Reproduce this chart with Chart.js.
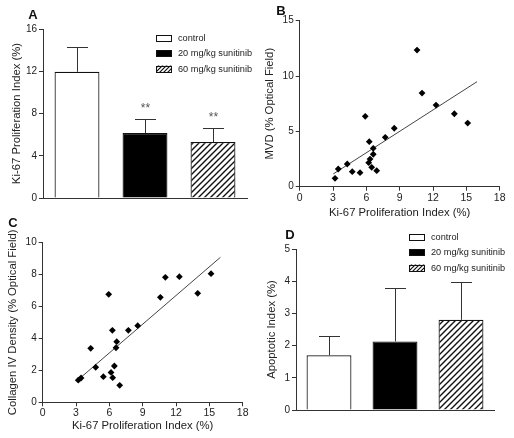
<!DOCTYPE html>
<html><head><meta charset="utf-8">
<script src="https://cdn.jsdelivr.net/npm/chart.js@4.4.1/dist/chart.umd.min.js"></script>
<style>
html,body{margin:0;padding:0;background:#fff}
body{width:514px;height:438px;position:relative;overflow:hidden;font-family:"Liberation Sans",Arial,sans-serif}
.p{position:absolute;width:257px;height:219px}
.p canvas{display:block}
.lbl{position:absolute;font-weight:bold;font-size:13px;color:#111;transform:translate(-50%,-50%);line-height:1}
</style></head><body>
<div class="p" style="left:0;top:0"><canvas id="cA" width="257" height="219"></canvas></div>
<div class="p" style="left:257px;top:0"><canvas id="cB" width="257" height="219"></canvas></div>
<div class="p" style="left:0;top:219px"><canvas id="cC" width="257" height="219"></canvas></div>
<div class="p" style="left:257px;top:219px"><canvas id="cD" width="257" height="219"></canvas></div>
<div class="lbl" style="left:33px;top:14px">A</div>
<div class="lbl" style="left:281px;top:10px">B</div>
<div class="lbl" style="left:13px;top:222px">C</div>
<div class="lbl" style="left:290px;top:234px">D</div>
<script>
// ---------- data ----------
const groups = ['control', '20 mg/kg sunitinib', '60 mg/kg sunitinib'];

const ki67Mean = [11.95, 6.15, 5.3];
const ki67Err  = [2.35, 1.32, 1.28];
const ki67Sig  = ['', '**', '**'];
const ki67Ticks = [0, 4, 8, 12, 16];

const apoMean = [1.7, 2.13, 2.8];
const apoErr  = [0.6, 1.66, 1.16];
const apoTicks = [0, 1, 2, 3, 4, 5];

const mvdKi = [3.18, 3.47, 4.28, 4.73, 5.43, 5.90, 6.21, 6.26, 6.33, 6.48, 6.62, 6.62, 6.93, 7.70, 8.51, 10.56, 11.01, 12.27, 13.92, 15.12];
const mvdVal = [0.76, 1.6, 2.05, 1.36, 1.27, 6.36, 2.17, 4.07, 2.50, 1.75, 3.47, 2.93, 1.45, 4.46, 5.28, 12.35, 8.46, 7.38, 6.59, 5.75];
const mvdFitX = [3.02, 15.96];
const mvdFitY = [1.15, 9.49];
const mvdTicks = [0, 5, 10, 15];

const colKi = [3.2, 3.45, 4.32, 4.77, 5.46, 5.94, 6.15, 6.27, 6.3, 6.45, 6.6, 6.66, 6.93, 7.71, 8.55, 10.59, 11.04, 12.3, 13.95, 15.15];
const colVal = [1.38, 1.52, 3.375, 2.19, 1.6, 6.75, 1.87, 4.5, 1.54, 2.27, 3.41, 3.79, 1.06, 4.5, 4.79, 6.56, 7.81, 7.85, 6.81, 8.04];
const colFitX = [3.06, 15.99];
const colFitY = [1.33, 9.06];
const colTicks = [0, 2, 4, 6, 8, 10];

const kiTicks = [0, 3, 6, 9, 12, 15, 18];

// ---------- style ----------
const AX = '#333';
const TX = '#222';
const FONT = '"Liberation Sans", Arial, sans-serif';
Chart.defaults.font.family = FONT;
Chart.defaults.color = TX;

function hatch() {
  const s = 6, c = document.createElement('canvas');
  c.width = s; c.height = s;
  const g = c.getContext('2d');
  g.fillStyle = '#fff'; g.fillRect(0, 0, s, s);
  g.strokeStyle = '#111'; g.lineWidth = 1.4;
  g.beginPath();
  g.moveTo(0, s); g.lineTo(s, 0);
  g.moveTo(-1, 1); g.lineTo(1, -1);
  g.moveTo(s - 1, s + 1); g.lineTo(s + 1, s - 1);
  g.stroke();
  return g.createPattern(c, 'repeat');
}
function hatchSmall() {
  const s = 4, c = document.createElement('canvas');
  c.width = s; c.height = s;
  const g = c.getContext('2d');
  g.fillStyle = '#fff'; g.fillRect(0, 0, s, s);
  g.strokeStyle = '#111'; g.lineWidth = 1.2;
  g.beginPath();
  g.moveTo(0, s); g.lineTo(s, 0);
  g.moveTo(-1, 1); g.lineTo(1, -1);
  g.moveTo(s - 1, s + 1); g.lineTo(s + 1, s - 1);
  g.stroke();
  return g.createPattern(c, 'repeat');
}
const fills = ['#ffffff', '#000000', hatch()];
const legendFills = ['#ffffff', '#000000', hatchSmall()];

const errPlugin = {
  id: 'errbars',
  afterDatasetsDraw(chart, args, o) {
    if (!o || !o.means) return;
    const ctx = chart.ctx, meta = chart.getDatasetMeta(0), ys = chart.scales.y;
    ctx.save();
    ctx.strokeStyle = AX; ctx.lineWidth = 1;
    o.means.forEach((m, i) => {
      const x = Math.round(meta.data[i].x) + 0.5;
      const y0 = ys.getPixelForValue(m);
      const y1 = Math.round(ys.getPixelForValue(m + o.err[i])) + 0.5;
      ctx.beginPath();
      ctx.moveTo(x, y0); ctx.lineTo(x, y1);
      ctx.moveTo(x - 10.5, y1); ctx.lineTo(x + 10.5, y1);
      ctx.stroke();
      if (o.sig && o.sig[i]) {
        ctx.fillStyle = '#555';
        ctx.font = '12px ' + FONT;
        ctx.textAlign = 'center'; ctx.textBaseline = 'middle';
        ctx.fillText(o.sig[i], x, y1 - 11);
      }
    });
    ctx.restore();
  }
};

const legPlugin = {
  id: 'leg',
  afterDraw(chart, args, o) {
    if (!o || !o.labels) return;
    const ctx = chart.ctx;
    ctx.save();
    ctx.font = '9.2px ' + FONT;
    ctx.textBaseline = 'middle'; ctx.textAlign = 'left';
    o.labels.forEach((t, i) => {
      const y = o.y + i * o.step;
      ctx.fillStyle = legendFills[i];
      ctx.fillRect(o.x, y - 3.5, 16, 7);
      ctx.strokeStyle = '#111'; ctx.lineWidth = 1;
      ctx.strokeRect(o.x + 0.5, Math.round(y - 3.5) + 0.5, 15, 6);
      ctx.fillStyle = TX;
      ctx.fillText(t, o.x + 22, y);
    });
    ctx.restore();
  }
};

function yAxis(ticks, title, width, titlePad) {
  return {
    min: ticks[0], max: ticks[ticks.length - 1],
    afterBuildTicks(s) { s.ticks = ticks.map(v => ({value: v})); },
    grid: {drawOnChartArea: false, drawTicks: true, tickLength: 4, color: AX},
    border: {color: AX, width: 1},
    ticks: {padding: 2, color: TX, font: {size: 10}},
    title: {display: true, text: title, color: TX, font: {size: 11.3}, padding: {top: titlePad, bottom: 0}},
    afterFit(s) { s.width = width; }
  };
}

function barChart(id, means, err, sig, ticks, title, lay, leg) {
  return new Chart(document.getElementById(id), {
    type: 'bar',
    data: {labels: groups, datasets: [{
      data: means, backgroundColor: fills, borderColor: '#111', borderWidth: 1.2,
      barPercentage: lay.bar, categoryPercentage: 1
    }]},
    options: {
      responsive: false, animation: false,
      layout: {padding: {top: lay.top, right: lay.right, left: 0, bottom: 0}},
      plugins: {legend: {display: false}, tooltip: {enabled: false},
        errbars: {means: means, err: err, sig: sig},
        leg: {labels: groups, x: leg.x, y: leg.y, step: leg.step}},
      scales: {
        x: {grid: {display: false}, ticks: {display: false}, border: {color: AX, width: 1},
            afterFit(s) { s.height = lay.xh; }},
        y: yAxis(ticks, title, lay.yw, lay.tp)
      }
    },
    plugins: [errPlugin, legPlugin]
  });
}

function scatterChart(id, xs, ys, fx, fy, yticks, ytitle, lay) {
  return new Chart(document.getElementById(id), {
    type: 'scatter',
    data: {datasets: [
      {data: xs.map((x, i) => ({x: x, y: ys[i]})), pointStyle: 'rectRot', pointRadius: 3.4,
       backgroundColor: '#000', borderColor: '#000', borderWidth: 0},
      {type: 'line', data: fx.map((x, i) => ({x: x, y: fy[i]})), borderColor: '#444',
       borderWidth: 1, pointRadius: 0, fill: false}
    ]},
    options: {
      responsive: false, animation: false,
      layout: {padding: {top: lay.top, right: lay.right, left: 0, bottom: 0}},
      plugins: {legend: {display: false}, tooltip: {enabled: false}},
      scales: {
        x: {type: 'linear', min: 0, max: 18,
            afterBuildTicks(s) { s.ticks = kiTicks.map(v => ({value: v})); },
            grid: {drawOnChartArea: false, drawTicks: true, tickLength: 4, color: AX},
            border: {color: AX, width: 1},
            ticks: {padding: 1, color: TX, font: {size: 10.5}, maxRotation: 0},
            title: {display: true, text: 'Ki-67 Proliferation Index (%)', color: TX,
                    font: {size: 11.3, lineHeight: 1}, padding: {top: 0, bottom: lay.xtp}},
            afterFit(s) { s.height = lay.xh; }},
        y: yAxis(yticks, ytitle, lay.yw, lay.tp)
      }
    }
  });
}

barChart('cA', ki67Mean, ki67Err, ki67Sig, ki67Ticks, 'Ki-67 Proliferation Index (%)',
  {top: 29, right: 10, xh: 21, yw: 43, tp: 9.7, bar: 0.66},
  {x: 156, y: 38, step: 15.5});

scatterChart('cB', mvdKi, mvdVal, mvdFitX, mvdFitY, mvdTicks, 'MVD (% Optical Field)',
  {top: 20.7, right: 14.3, xh: 32.3, yw: 42.7, tp: 6.2, xtp: 0});

scatterChart('cC', colKi, colVal, colFitX, colFitY, colTicks, 'Collagen IV Density (% Optical Field)',
  {top: 23.3, right: 14.3, xh: 35.7, yw: 42.7, tp: 6.2, xtp: 6.7});

barChart('cD', apoMean, apoErr, ['', '', ''], apoTicks, 'Apoptotic Index (%)',
  {top: 30, right: 20, xh: 28, yw: 39, tp: 8.2, bar: 0.68},
  {x: 152, y: 18, step: 15.5});
</script>
</body></html>
